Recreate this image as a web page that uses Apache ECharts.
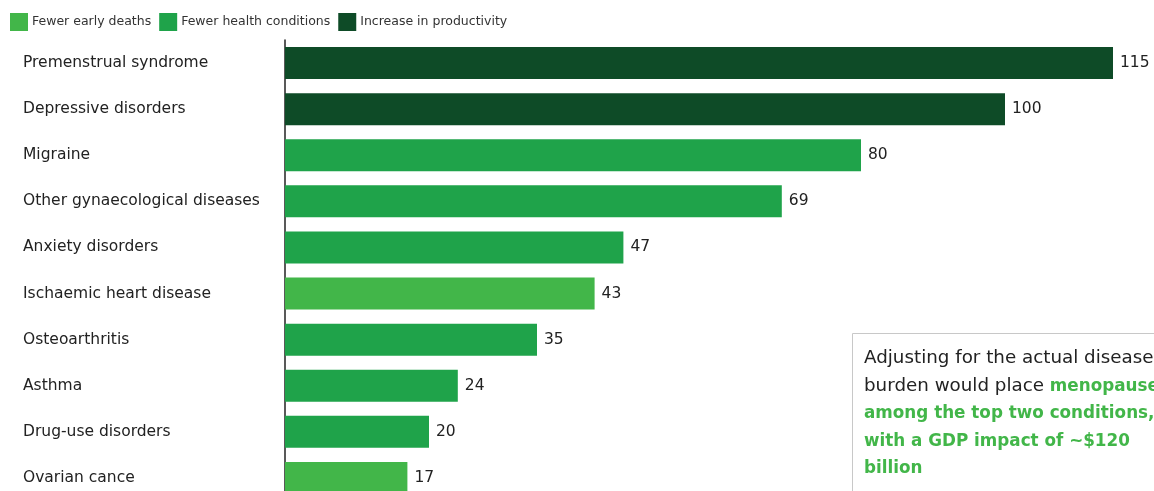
<!DOCTYPE html>
<html>
<head>
<meta charset="utf-8">
<script src="https://cdn.jsdelivr.net/npm/echarts@6/dist/echarts.min.js"></script>
<style>
html,body{margin:0;padding:0;background:#fff;}
#chart{width:1154px;height:491px;}
</style>
</head>
<body>
<div id="chart"></div>
<script>
var categories = ["Premenstrual syndrome","Depressive disorders","Migraine","Other gynaecological diseases","Anxiety disorders","Ischaemic heart disease","Osteoarthritis","Asthma","Drug-use disorders","Ovarian cance"];
var fewerEarlyDeaths = [null,null,null,null,null,43,null,null,null,17];
var fewerHealthConditions = [null,null,80,69,47,null,35,24,20,null];
var increaseInProductivity = [115,100,null,null,null,null,null,null,null,null];
var seriesNames = ["Fewer early deaths","Fewer health conditions","Increase in productivity"];
var colors = ["#42b649","#1fa34a","#0e4b27"];

var FONT = "DejaVu Sans";
var chart = echarts.init(document.getElementById('chart'), null, {renderer:'canvas'});
function mk(name, data, color){
  return {
    name: name, type: 'bar', data: data, barWidth: 32, barGap: '-100%',
    itemStyle: {color: color},
    label: {show: true, position: 'right', distance: 7, color: '#222', fontFamily: FONT, fontSize: 15.5},
    emphasis: {disabled: true}, animation: false
  };
}
chart.setOption({
  animation: false,
  legend: {
    left: 5, top: 8, itemWidth: 18, itemHeight: 18, itemGap: 8,
    icon: 'rect',
    textStyle: {fontFamily: FONT, fontSize: 12.5, color: '#333', padding:[0,0,0,-1]},
    data: seriesNames
  },
  grid: {left: 285, width: 864, top: 40, height: 461, containLabel: false, outerBoundsMode: 'none'},
  xAxis: {type: 'value', min: 0, max: 120, show: false},
  yAxis: {
    type: 'category', data: categories, inverse: true,
    axisLine: {show: true, lineStyle: {color: '#222', width: 1.5}},
    axisTick: {show: false},
    axisLabel: {align: 'left', margin: 262, fontFamily: FONT, fontSize: 15.5, color: '#222'}
  },
  series: [
    mk(seriesNames[0], fewerEarlyDeaths, colors[0]),
    mk(seriesNames[1], fewerHealthConditions, colors[1]),
    mk(seriesNames[2], increaseInProductivity, colors[2])
  ],
  graphic: [
    {type: 'rect', left: 852, top: 333, shape: {width: 340, height: 200},
     style: {fill: '#fff', stroke: '#c8c8c8', lineWidth: 1}, z: 100},
    {type: 'text', left: 864, top: 345, z: 101,
     style: {
       text: "Adjusting for the actual disease\nburden would place {g|menopause}\n{g|among the top two conditions,}\n{g|with a GDP impact of ~$120}\n{g|billion}",
       fontFamily: FONT, fontSize: 18.3, fill: '#222', lineHeight: 27.5,
       rich: {g: {fill: '#42b649', fontWeight: 'bold', fontFamily: FONT, fontSize: 16.8, lineHeight: 27.5}}
     }}
  ]
});
</script>
</body>
</html>
